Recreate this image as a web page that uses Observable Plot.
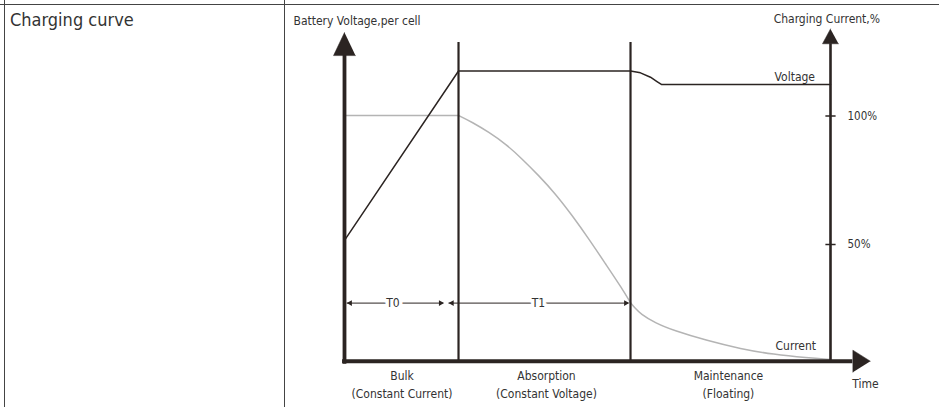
<!DOCTYPE html>
<html>
<head>
<meta charset="utf-8">
<script src="https://cdn.jsdelivr.net/npm/d3@7"></script>
<script src="https://cdn.jsdelivr.net/npm/@observablehq/plot@0.6"></script>
<style>
  html, body { margin: 0; padding: 0; background: #fff; }
  #wrap { position: relative; width: 939px; height: 407px; overflow: hidden;
          font-family: "DejaVu Sans Condensed", "DejaVu Sans", sans-serif; color: #333; }
  #chart { position: absolute; left: 0; top: 0; }
  .hline { position: absolute; left: 0; top: 4px; width: 939px; height: 1px; background: #444; }
  .vline { position: absolute; top: 0; width: 1px; height: 407px; background: #444; }
  #rowTitle { position: absolute; left: 10px; top: 11px; font-size: 18px; line-height: 18px; white-space: nowrap; }
</style>
</head>
<body>
<div id="wrap">
  <div id="chart"></div>
  <div class="hline"></div>
  <div class="vline" style="left:4px"></div>
  <div class="vline" style="left:284px"></div>
  <div id="rowTitle">Charging curve</div>
</div>
<script>
// ---- data (time in % of drawn span, level in % of charging current) ----
const phaseBounds = [0, 23.46, 58.85, 100];
const phaseNames = ["Bulk", "Absorption", "Maintenance"];
const phaseSubs = ["(Constant Current)", "(Constant Voltage)", "(Floating)"];
const phaseCenters = [11.83, 41.56, 79.0];

const voltageT = [0, 23.46, 58.85, 60.9, 62.96, 64.3, 65.2, 100];
const voltageV = [51.6, 117.5, 117.5, 116.8, 115.1, 113.4, 112.3, 112.3];

// constant-current stage
const currentFlatT = [0, 23.46];
const currentFlatV = [100.2, 100.2];
// absorption stage
const currentAbsT = [23.46, 26.28, 29.69, 33.13, 36.56, 39.98, 43.42, 46.85, 50.27, 53.70, 57.14, 58.85];
const currentAbsV = [100.2, 97.6, 93.7, 89.2, 83.3, 76.8, 69.7, 61.3, 52.2, 42.5, 32.8, 27.3];
// floating stage
const currentFloatT = [58.85, 59.6, 60.9, 64.0, 67.8, 74.6, 81.5, 88.3, 95.2, 100];
const currentFloatV = [27.3, 25.6, 23.0, 19.4, 16.5, 12.6, 9.4, 7.2, 5.9, 5.25];

const currentTicks = [100, 50];
const currentTickLabels = ["100%", "50%"];

const dimLabels = ["T0", "T1"];
const dimStart = [0.55, 21.5];
const dimEnd = [20.4, 58.5];
const dimCenter = [9.98, 39.9];
const dimLevel = 27.2;

const axisTitles = ["Battery Voltage,per cell", "Charging Current,%", "Time"];
const axisTitleT = [-10.5, 88.3, 104.5];
const axisTitleV = [135.6, 136.0, -6.0];

const seriesLabels = ["Voltage", "Current"];
const seriesLabelT = [88.5, 88.7];
const seriesLabelV = [113.8, 9.1];

const baseLevel = 4.6;      // time axis level
const leftAxisTop = 123.5, rightAxisTop = 128.1, phaseLineTop = 128.6, timeAxisEnd = 104.6;

// arrowhead polygons
const arrowId = ["v","v","v","c","c","c","t","t","t"];
const arrowT = [0, -2.26, 2.26, 100, 98.35, 101.65, 108.2, 104.6, 104.6];
const arrowV = [132.5, 123.5, 123.5, 133.9, 128.1, 128.1, baseLevel, 8.9, 0.3];

// ---- tables built from arrays ----
const voltage = voltageT.map((t, i) => ({t, v: voltageV[i]}));
const currentFlat = currentFlatT.map((t, i) => ({t, v: currentFlatV[i]}));
const currentCurved = [
  ...currentAbsT.map((t, i) => ({seg: "cv", t, v: currentAbsV[i]})),
  ...currentFloatT.map((t, i) => ({seg: "fl", t, v: currentFloatV[i]}))
];
const arrows = arrowT.map((t, i) => ({id: arrowId[i], t, v: arrowV[i]}));
const phases = phaseNames.map((n, i) => ({name: n, sub: phaseSubs[i], c: phaseCenters[i]}));
const dims = dimLabels.map((l, i) => ({label: l, s: dimStart[i], e: dimEnd[i], c: dimCenter[i]}));
const ticks = currentTicks.map((v, i) => ({v, label: currentTickLabels[i]}));
const titles = axisTitles.map((s, i) => ({s, t: axisTitleT[i], v: axisTitleV[i]}));
const slabels = seriesLabels.map((s, i) => ({s, t: seriesLabelT[i], v: seriesLabelV[i]}));

const dark = "#2b2422";
const gray = "#b4b4b4";
const txt = "#333";

const chart = Plot.plot({
  width: 939,
  height: 407,
  marginTop: 0, marginRight: 0, marginBottom: 0, marginLeft: 0,
  x: {domain: [0, 100], range: [344, 830], axis: null},
  y: {domain: [0, 100], range: [372.5, 115.5], axis: null},
  style: {fontFamily: "'DejaVu Sans Condensed', 'DejaVu Sans', sans-serif", fontSize: "12px", color: txt, background: "transparent"},
  marks: [
    // current curve
    Plot.line(currentFlat, {x: "t", y: "v", stroke: gray, strokeWidth: 1.5}),
    Plot.line(currentCurved, {x: "t", y: "v", z: "seg", stroke: gray, strokeWidth: 1.5, curve: "basis"}),
    // phase boundary lines
    Plot.ruleX(phaseBounds.slice(1, 3), {y1: baseLevel, y2: phaseLineTop, stroke: dark, strokeWidth: 2.2}),
    // voltage curve
    Plot.line(voltage, {x: "t", y: "v", stroke: dark, strokeWidth: 1.5}),
    // left axis
    Plot.ruleX([phaseBounds[0]], {y1: baseLevel - 1.2, y2: leftAxisTop, stroke: dark, strokeWidth: 3.8}),
    // right axis
    Plot.ruleX([phaseBounds[3]], {y1: baseLevel, y2: rightAxisTop, stroke: dark, strokeWidth: 2.6}),
    // time axis
    Plot.ruleY([baseLevel], {x1: -0.4, x2: timeAxisEnd, stroke: dark, strokeWidth: 4}),
    // arrowheads
    Plot.line(arrows, {x: "t", y: "v", z: "id", fill: dark, stroke: dark, strokeWidth: 0.5}),
    // right axis ticks
    Plot.ruleY(ticks, {y: "v", x1: 99.05, x2: 101.15, stroke: dark, strokeWidth: 1.5}),
    Plot.text(ticks, {x: 100, y: "v", text: "label", textAnchor: "start", dx: 17, fill: txt, fontSize: 11.5}),
    // duration dimension lines with small filled heads
    Plot.ruleY(dims, {y: dimLevel, x1: "s", x2: "e", stroke: dark, strokeWidth: 1}),
    Plot.dot(dims, {x: "s", y: dimLevel, symbol: "triangle", r: 2.2, rotate: -90, dx: 3, fill: dark, stroke: "none"}),
    Plot.dot(dims, {x: "e", y: dimLevel, symbol: "triangle", r: 2.2, rotate: 90, dx: -3, fill: dark, stroke: "none"}),
    Plot.text(dims, {x: "c", y: dimLevel, text: "label", fill: txt, stroke: "white", strokeWidth: 7, fontSize: 12}),
    // phase labels
    Plot.text(phases, {x: "c", y: -2.7, text: "name", lineAnchor: "bottom", fill: txt, fontSize: 12}),
    Plot.text(phases, {x: "c", y: -9.8, text: "sub", lineAnchor: "bottom", fill: txt, fontSize: 12}),
    // axis titles
    Plot.text(titles, {x: "t", y: "v", text: "s", textAnchor: "start", lineAnchor: "bottom", fill: txt, fontSize: 12}),
    // series labels
    Plot.text(slabels, {x: "t", y: "v", text: "s", textAnchor: "start", lineAnchor: "bottom", fill: txt, fontSize: 12})
  ]
});
document.getElementById("chart").appendChild(chart);
</script>
</body>
</html>
